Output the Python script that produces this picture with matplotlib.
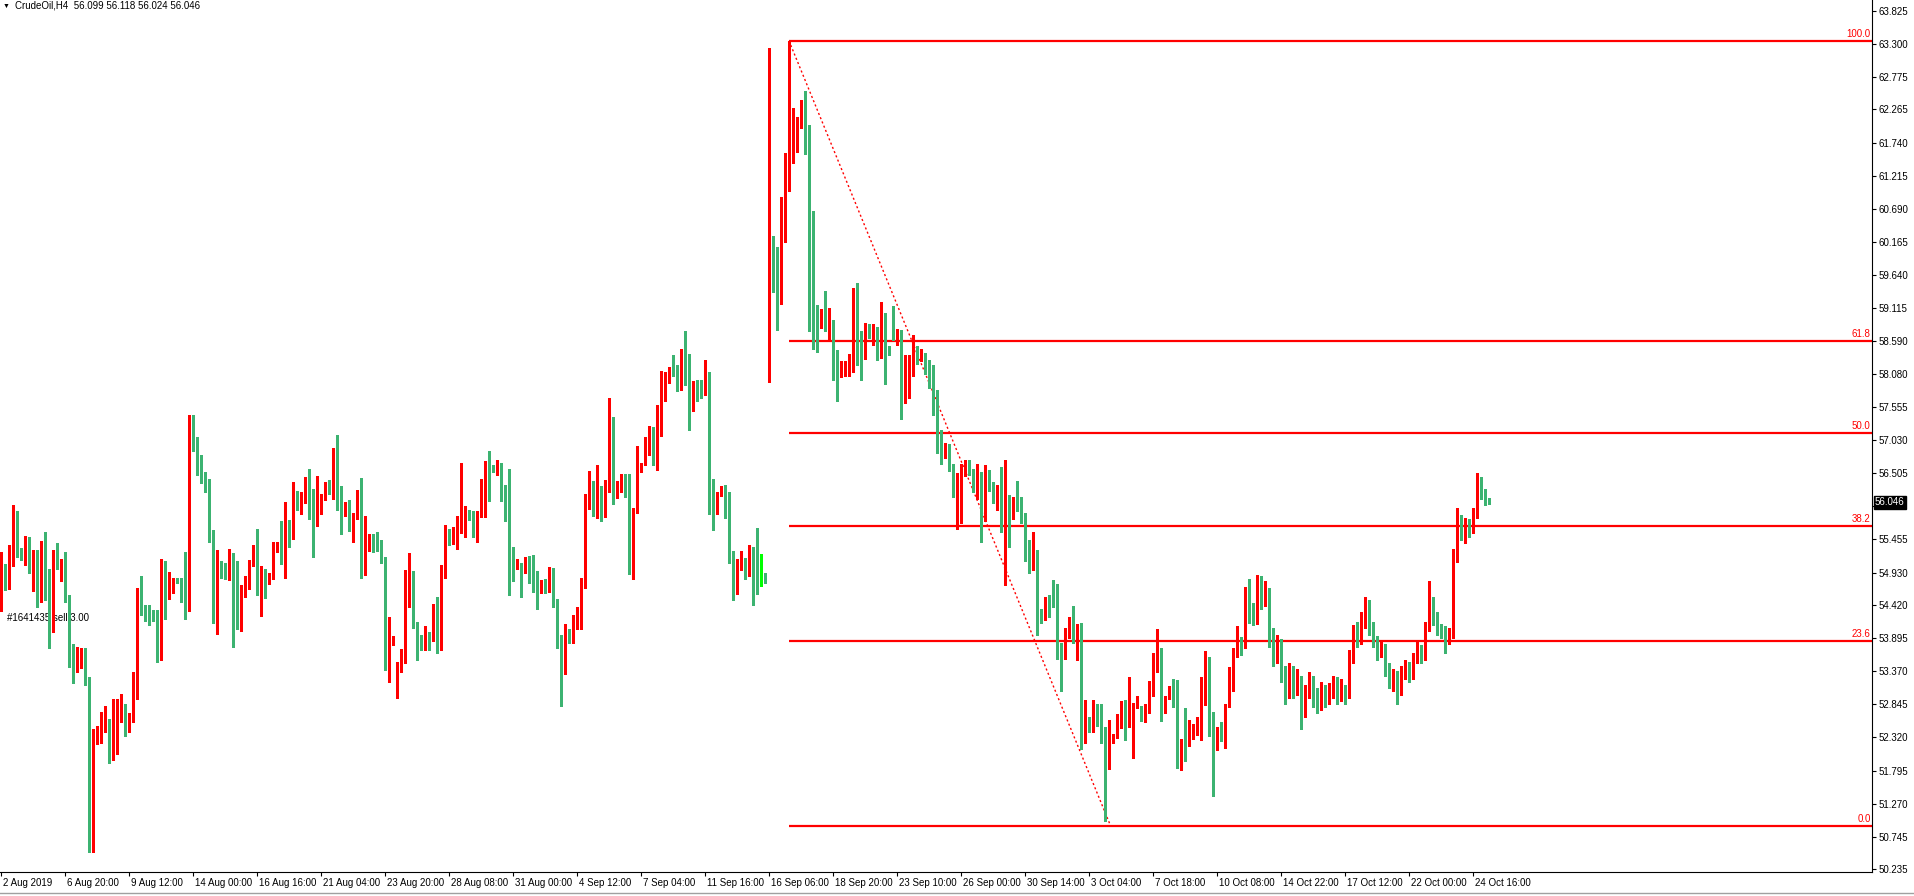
import matplotlib
matplotlib.use("Agg")
import matplotlib.pyplot as plt
import matplotlib.transforms as mtransforms
from matplotlib.lines import Line2D
import numpy as np

plt.rcParams['font.family'] = ['Liberation Sans', 'DejaVu Sans']

# CrudeOil H4 candles, 2 Aug 2019 .. 24 Oct 2019 (one value per bar)
opens = [
    54.42, 54.99, 54.79, 55.24, 55.37, 55.25, 55.26, 55.40, 55.01, 55.21,
    54.93, 55.24, 54.80, 54.04, 55.27, 55.03, 55.05, 54.50, 53.73, 53.38,
    53.57, 53.71, 53.24, 50.65, 52.24, 52.26, 52.56, 52.56, 52.07, 52.66,
    52.73, 52.82, 52.41, 52.62, 53.06, 54.39, 54.37, 54.29, 54.21, 54.18,
    53.79, 55.05, 54.59, 54.76, 54.81, 54.79, 54.69, 54.36, 57.28, 57.07,
    56.77, 56.38, 56.26, 55.46, 54.14, 55.05, 54.93, 54.87, 55.15, 54.60,
    54.55, 54.55, 54.75, 55.06, 55.12, 54.65, 54.88, 54.85, 54.95, 55.30,
    55.34, 55.23, 55.69, 55.62, 56.21, 55.94, 56.13, 56.25, 55.91, 55.76,
    55.94, 56.15, 56.36, 56.32, 56.83, 56.20, 55.83, 55.99, 55.61, 55.83,
    56.10, 54.91, 55.36, 55.50, 55.36, 55.33, 55.18, 53.52, 53.82, 53.38,
    53.43, 53.54, 54.53, 54.75, 54.15, 53.79, 53.75, 53.96, 53.93, 54.23,
    53.76, 54.93, 55.58, 55.42, 55.50, 55.67, 55.83, 55.91, 55.85, 55.56,
    55.88, 56.32, 56.65, 56.62, 56.55, 56.65, 56.25, 55.96, 55.12, 55.05,
    54.99, 54.94, 55.13, 54.82, 54.82, 54.71, 54.83, 54.64, 54.82, 54.43,
    53.90, 53.58, 53.93, 53.82, 54.07, 54.22, 54.79, 56.11, 56.29, 55.99,
    56.20, 55.84, 56.31, 57.23, 56.22, 56.28, 56.47, 56.16, 55.46, 55.90,
    56.54, 56.66, 56.79, 57.11, 57.02, 57.24, 57.88, 57.98, 58.14, 58.06,
    57.89, 58.43, 58.18, 57.52, 57.95, 57.86, 57.82, 57.87, 56.24, 56.08,
    56.17, 56.26, 56.06, 55.18, 54.82, 55.05, 55.15, 54.95, 55.26, 55.04,
    54.89, 54.89, 57.95, 60.20, 60.08, 59.56, 60.16, 60.98, 61.77, 61.84,
    61.98, 62.28, 62.02, 59.90, 59.07, 58.87, 58.98, 58.86, 58.89, 58.41,
    58.04, 58.08, 58.22, 58.29, 59.25, 58.37, 58.34, 58.83, 58.68, 58.82,
    58.66, 58.79, 58.46, 59.00, 58.65, 58.76, 57.70, 57.93, 58.24, 58.47,
    58.31, 58.37, 58.16, 58.09, 57.81, 56.99, 56.78, 56.92, 56.61, 56.18,
    56.25, 56.53, 56.70, 56.55, 56.23, 56.52, 55.95, 56.49, 56.27, 56.06,
    56.23, 55.81, 56.10, 55.84, 56.28, 56.02, 55.82, 55.25, 55.13, 55.19,
    54.26, 54.20, 54.53, 54.50, 54.40, 53.64, 53.57, 54.02, 54.20, 53.90,
    54.02, 52.38, 52.64, 52.49, 52.83, 52.65, 52.48, 51.88, 52.30, 52.32,
    52.61, 52.85, 52.64, 52.76, 52.81, 52.78, 52.65, 52.79, 53.05, 53.56,
    53.61, 52.89, 52.93, 53.06, 52.82, 51.95, 52.27, 52.22, 52.37, 52.41,
    52.47, 53.16, 53.46, 52.63, 52.19, 52.47, 52.30, 52.81, 53.24, 53.63,
    53.88, 53.79, 54.56, 54.32, 54.18, 54.70, 54.45, 54.62, 53.85, 53.60,
    53.80, 53.30, 53.05, 53.35, 53.10, 53.25, 52.75, 53.05, 53.20, 52.95,
    52.85, 53.10, 52.90, 53.05, 53.20, 52.95, 53.10, 52.98, 53.60, 54.00,
    53.85, 54.15, 54.40, 54.05, 53.85, 53.65, 53.75, 53.40, 53.20, 53.30,
    53.10, 53.35, 53.45, 53.30, 53.55, 53.70, 53.60, 54.05, 54.40, 54.20,
    54.05, 54.00, 53.85, 53.95, 55.20, 55.75, 55.55, 55.70, 55.60, 55.85,
    56.30, 56.20, 56.099,
]
highs = [
    55.26, 55.07, 55.37, 56.00, 55.90, 55.32, 55.51, 55.49, 55.29, 55.29,
    55.43, 55.57, 54.99, 55.29, 55.40, 55.15, 55.25, 54.58, 53.80, 53.75,
    53.73, 53.73, 53.27, 52.45, 52.50, 52.72, 52.82, 52.62, 52.93, 52.93,
    53.01, 52.85, 52.71, 53.36, 54.69, 54.87, 54.41, 54.41, 54.34, 54.34,
    55.15, 55.12, 54.94, 54.85, 54.85, 54.85, 55.25, 57.42, 57.43, 57.07,
    56.79, 56.53, 56.42, 55.61, 55.29, 55.12, 55.08, 55.31, 55.24, 55.11,
    54.74, 54.87, 55.13, 55.37, 55.62, 55.04, 54.99, 54.93, 55.41, 55.42,
    55.75, 56.05, 55.76, 56.37, 56.22, 56.21, 56.45, 56.57, 56.25, 56.46,
    56.18, 56.37, 56.40, 56.91, 57.11, 56.30, 56.05, 56.08, 55.87, 56.24,
    56.43, 55.82, 55.54, 55.54, 55.57, 55.45, 55.18, 54.23, 53.92, 53.51,
    53.72, 54.97, 55.24, 54.95, 54.15, 53.94, 54.08, 53.99, 54.43, 54.55,
    55.05, 55.69, 55.62, 55.66, 55.82, 56.67, 55.99, 55.92, 55.91, 55.91,
    56.41, 56.69, 56.86, 56.63, 56.71, 56.67, 56.32, 56.57, 55.33, 55.15,
    55.08, 55.17, 55.20, 55.21, 54.96, 54.82, 54.83, 55.02, 55.01, 54.52,
    53.94, 54.12, 54.04, 54.26, 54.38, 54.84, 56.18, 56.54, 56.38, 56.63,
    56.30, 56.40, 57.70, 57.39, 56.38, 56.49, 56.49, 56.49, 55.95, 56.93,
    56.67, 57.08, 57.25, 57.23, 57.59, 58.12, 58.11, 58.18, 58.38, 58.21,
    58.47, 58.75, 58.39, 57.97, 57.98, 57.98, 58.29, 58.10, 56.42, 56.21,
    56.30, 56.32, 56.21, 55.28, 55.14, 55.28, 55.16, 55.37, 55.33, 55.64,
    55.23, 54.93, 63.24, 60.26, 60.08, 60.87, 61.57, 63.35, 62.28, 62.15,
    62.42, 62.56, 62.02, 60.66, 59.17, 59.10, 59.39, 59.12, 58.93, 58.46,
    58.28, 58.28, 58.39, 59.44, 59.52, 58.76, 58.89, 58.86, 58.87, 58.82,
    59.21, 59.04, 58.52, 59.15, 58.78, 58.77, 58.37, 58.37, 58.69, 58.52,
    58.47, 58.41, 58.29, 58.22, 57.82, 57.19, 56.99, 56.96, 56.65, 56.51,
    56.65, 56.71, 56.71, 56.57, 56.65, 56.52, 56.64, 56.55, 56.37, 56.31,
    56.60, 56.71, 56.16, 56.12, 56.38, 56.12, 55.87, 55.45, 55.57, 55.29,
    54.35, 54.55, 54.58, 54.81, 54.75, 53.81, 54.06, 54.22, 54.40, 54.12,
    54.13, 52.92, 52.65, 52.92, 52.85, 52.85, 52.49, 52.60, 52.38, 52.69,
    52.90, 52.92, 53.28, 52.86, 52.97, 52.82, 52.85, 53.21, 53.66, 54.04,
    53.74, 52.98, 53.13, 53.25, 53.23, 52.29, 52.79, 52.60, 52.54, 52.65,
    53.28, 53.69, 53.59, 52.73, 52.49, 52.56, 52.85, 53.43, 53.73, 54.09,
    53.91, 54.70, 54.83, 54.45, 54.90, 54.88, 54.80, 54.68, 54.05, 53.95,
    53.88, 53.45, 53.50, 53.45, 53.40, 53.30, 53.15, 53.35, 53.30, 53.10,
    53.20, 53.15, 53.18, 53.30, 53.28, 53.25, 53.15, 53.70, 54.10, 54.15,
    54.30, 54.55, 54.50, 54.15, 53.92, 53.85, 53.80, 53.50, 53.40, 53.38,
    53.45, 53.55, 53.52, 53.65, 53.85, 53.78, 54.15, 54.80, 54.55, 54.30,
    54.12, 54.08, 54.05, 55.30, 55.95, 55.85, 55.80, 55.78, 55.95, 56.50,
    56.45, 56.25, 56.118,
]
lows = [
    54.33, 54.66, 54.67, 55.03, 55.18, 55.13, 55.05, 54.93, 54.64, 54.39,
    54.47, 54.50, 53.74, 53.99, 54.99, 54.80, 54.47, 53.44, 53.18, 53.35,
    53.42, 53.15, 50.51, 50.51, 52.21, 52.23, 52.41, 51.92, 51.97, 52.06,
    52.57, 52.35, 52.40, 52.56, 52.93, 54.26, 54.17, 54.10, 54.16, 53.52,
    53.55, 54.20, 54.51, 54.60, 54.76, 54.47, 54.20, 54.33, 56.85, 56.48,
    56.35, 56.21, 55.42, 54.14, 53.96, 54.84, 54.83, 54.81, 53.76, 54.03,
    54.01, 54.54, 54.67, 55.03, 54.57, 54.24, 54.53, 54.75, 54.83, 55.25,
    55.07, 54.85, 55.34, 55.46, 55.92, 55.86, 56.04, 55.78, 55.17, 55.67,
    55.86, 56.08, 56.18, 56.10, 55.92, 55.54, 55.82, 55.59, 55.41, 55.78,
    54.85, 54.89, 55.27, 55.26, 55.28, 55.09, 53.39, 53.20, 53.79, 52.95,
    53.35, 53.50, 54.39, 54.05, 53.55, 53.71, 53.71, 53.70, 53.85, 53.66,
    53.70, 54.85, 55.37, 55.38, 55.31, 55.56, 55.50, 55.76, 55.50, 55.42,
    55.81, 55.81, 56.07, 56.52, 56.47, 56.07, 55.74, 54.57, 54.80, 54.99,
    54.55, 54.92, 54.77, 54.63, 54.35, 54.61, 54.61, 54.63, 54.39, 53.74,
    52.82, 53.32, 53.81, 53.81, 54.04, 54.04, 54.68, 55.94, 55.83, 55.80,
    55.74, 55.81, 56.20, 56.02, 56.11, 56.21, 56.13, 54.91, 54.83, 55.87,
    56.52, 56.64, 56.79, 56.63, 56.55, 57.10, 57.65, 57.94, 58.05, 57.81,
    57.82, 57.90, 57.19, 57.49, 57.64, 57.70, 57.74, 55.86, 55.61, 55.86,
    56.15, 55.80, 55.09, 54.50, 54.59, 54.97, 54.83, 54.88, 54.42, 54.59,
    54.72, 54.77, 57.95, 59.37, 58.77, 59.19, 60.16, 60.98, 61.42, 61.59,
    61.97, 61.56, 58.76, 58.47, 58.42, 58.80, 58.76, 58.62, 57.98, 57.65,
    58.02, 58.04, 58.04, 58.11, 58.22, 57.98, 58.32, 58.65, 58.54, 58.30,
    58.33, 57.91, 58.37, 58.62, 58.54, 57.37, 57.61, 57.70, 58.05, 58.24,
    58.28, 58.07, 57.85, 57.42, 56.82, 56.65, 56.74, 56.54, 56.12, 55.62,
    55.71, 56.46, 56.48, 56.20, 56.09, 55.41, 55.75, 56.23, 56.03, 55.92,
    55.58, 54.74, 55.33, 55.78, 55.90, 55.72, 55.11, 54.93, 54.97, 53.94,
    54.14, 54.18, 54.22, 54.39, 53.57, 53.05, 53.56, 53.90, 53.82, 53.55,
    52.13, 52.24, 52.40, 52.40, 52.50, 52.24, 50.99, 51.82, 52.23, 52.31,
    52.47, 52.28, 52.49, 52.00, 52.78, 52.58, 52.56, 52.71, 52.97, 53.36,
    52.58, 52.71, 52.93, 52.80, 51.84, 51.80, 51.95, 52.18, 52.30, 52.36,
    52.28, 52.83, 52.35, 51.40, 52.12, 52.27, 52.16, 52.80, 53.05, 53.60,
    53.63, 53.73, 54.13, 54.10, 54.12, 54.35, 54.40, 53.75, 53.45, 53.50,
    53.20, 52.85, 52.95, 52.95, 53.00, 52.45, 52.65, 52.95, 52.80, 52.70,
    52.75, 52.80, 52.85, 52.95, 52.85, 52.90, 52.85, 52.95, 53.50, 53.75,
    53.80, 54.05, 53.95, 53.75, 53.55, 53.60, 53.30, 53.10, 53.05, 52.85,
    53.00, 53.25, 53.20, 53.25, 53.50, 53.50, 53.55, 54.00, 54.10, 53.95,
    53.90, 53.65, 53.80, 53.90, 55.10, 55.45, 55.40, 55.50, 55.55, 55.80,
    56.10, 56.00, 56.024,
]
closes = [
    55.24, 54.79, 55.24, 55.37, 55.25, 55.20, 55.40, 55.01, 55.23, 54.93,
    55.25, 54.79, 54.04, 55.27, 55.03, 55.04, 54.50, 53.73, 53.36, 53.57,
    53.71, 53.24, 50.59, 52.26, 52.28, 52.56, 52.57, 52.07, 52.66, 52.74,
    52.81, 52.41, 52.62, 53.06, 54.41, 54.37, 54.22, 54.21, 54.18, 53.79,
    55.04, 54.59, 54.77, 54.81, 54.77, 54.67, 54.36, 57.27, 57.05, 56.75,
    56.37, 56.26, 55.45, 54.18, 55.05, 54.93, 54.87, 55.15, 54.59, 54.54,
    54.58, 54.76, 55.07, 55.12, 54.65, 54.88, 54.85, 54.88, 55.31, 55.34,
    55.23, 55.69, 55.62, 56.21, 55.92, 56.14, 56.25, 55.90, 55.76, 55.96,
    56.16, 56.36, 56.30, 56.83, 56.18, 55.84, 55.99, 55.61, 55.85, 56.10,
    54.95, 55.37, 55.50, 55.34, 55.33, 55.17, 53.48, 53.84, 53.90, 53.44,
    53.55, 54.55, 54.75, 54.12, 53.77, 53.75, 53.96, 53.92, 54.23, 53.77,
    54.95, 55.58, 55.42, 55.52, 55.69, 55.88, 55.91, 55.83, 55.56, 55.91,
    56.32, 56.63, 56.61, 56.57, 56.65, 56.27, 55.92, 55.10, 55.05, 55.15,
    54.95, 55.13, 54.80, 54.80, 54.71, 54.78, 54.64, 54.82, 54.42, 53.90,
    53.58, 53.93, 53.83, 54.09, 54.23, 54.80, 56.12, 56.29, 55.99, 56.20,
    55.84, 56.33, 57.18, 56.22, 56.29, 56.47, 56.14, 55.46, 55.93, 56.56,
    56.67, 56.81, 57.11, 57.02, 57.25, 57.94, 58.00, 58.14, 58.05, 57.89,
    58.43, 58.16, 57.52, 57.95, 57.86, 57.83, 57.87, 56.24, 56.18, 56.19,
    56.26, 56.04, 55.17, 54.82, 55.07, 55.15, 54.95, 55.26, 55.03, 54.88,
    54.89, 54.80, 60.19, 60.07, 59.56, 60.19, 61.02, 61.78, 61.87, 62.01,
    62.29, 62.01, 59.89, 59.06, 58.87, 58.98, 58.87, 58.89, 58.35, 58.03,
    58.09, 58.24, 58.30, 59.24, 58.36, 58.34, 58.82, 58.67, 58.82, 58.66,
    58.81, 58.45, 58.38, 58.65, 58.77, 57.70, 57.94, 58.22, 58.47, 58.32,
    58.37, 58.15, 58.08, 57.78, 56.99, 56.78, 56.94, 56.60, 56.17, 56.26,
    56.54, 56.70, 56.54, 56.23, 56.53, 55.92, 56.49, 56.25, 56.05, 56.23,
    55.81, 56.10, 55.84, 56.12, 56.00, 55.80, 55.23, 55.13, 55.19, 54.25,
    54.20, 54.51, 54.48, 54.40, 53.64, 53.56, 54.04, 54.20, 53.90, 54.04,
    52.38, 52.65, 52.49, 52.82, 52.64, 52.48, 51.88, 52.30, 52.33, 52.61,
    52.85, 52.64, 52.77, 52.84, 52.95, 52.65, 52.83, 53.06, 53.59, 53.63,
    52.89, 52.93, 53.06, 52.83, 51.95, 52.28, 52.21, 52.38, 52.43, 52.47,
    53.17, 53.47, 52.63, 52.19, 52.48, 52.29, 52.83, 53.24, 53.64, 53.88,
    53.80, 54.58, 54.31, 54.18, 54.70, 54.45, 54.62, 53.85, 53.60, 53.80,
    53.30, 53.05, 53.35, 53.10, 53.25, 52.75, 53.05, 53.20, 52.95, 52.85,
    53.10, 52.90, 53.05, 53.20, 52.95, 53.10, 52.98, 53.60, 54.00, 53.85,
    54.15, 54.40, 54.05, 53.85, 53.65, 53.75, 53.40, 53.20, 53.30, 53.10,
    53.35, 53.45, 53.30, 53.55, 53.70, 53.60, 54.05, 54.40, 54.20, 54.05,
    54.00, 53.85, 53.95, 55.20, 55.75, 55.55, 55.70, 55.60, 55.85, 56.30,
    56.20, 56.10, 56.046,
]

time_labels = [
    "2 Aug 2019", "6 Aug 20:00", "9 Aug 12:00", "14 Aug 00:00", "16 Aug 16:00",
    "21 Aug 04:00", "23 Aug 20:00", "28 Aug 08:00", "31 Aug 00:00", "4 Sep 12:00",
    "7 Sep 04:00", "11 Sep 16:00", "16 Sep 06:00", "18 Sep 20:00", "23 Sep 10:00",
    "26 Sep 00:00", "30 Sep 14:00", "3 Oct 04:00", "7 Oct 18:00", "10 Oct 08:00",
    "14 Oct 22:00", "17 Oct 12:00", "22 Oct 00:00", "24 Oct 16:00",
]
bars_per_label = 16

price_ticks = [
    63.825, 63.300, 62.775, 62.265, 61.740, 61.215, 60.690, 60.165, 59.640,
    59.115, 58.590, 58.080, 57.555, 57.030, 56.505, 55.980, 55.455, 54.930,
    54.420, 53.895, 53.370, 52.845, 52.320, 51.795, 51.270, 50.745, 50.235,
]

fib_high = 63.35
fib_low = 50.92
fib_start_bar = 197
fib_end_bar = 277.4
fib_levels = [0.0, 23.6, 38.2, 50.0, 61.8, 100.0]

last_price = 56.046
header = "CrudeOil,H4  56.099 56.118 56.024 56.046"
order_note = "#1641435 sell 3.00"

assert len(opens) == len(highs) == len(lows) == len(closes)

W, H = 1915, 896
fig = plt.figure(figsize=(W / 100, H / 100), dpi=100)
fig.patch.set_facecolor('white')
ax = fig.add_axes([0, 24 / H, 1872 / W, 872 / H])

x = np.arange(len(opens))
o = np.array(opens)
c = np.array(closes)
up_col, dn_col, doji_col = '#ff0000', '#3cb371', '#00ff00'
colors = [up_col if cc > oo else (dn_col if cc < oo else doji_col) for oo, cc in zip(o, c)]

# wicks + bodies
ax.vlines(x, lows, highs, colors=colors, linewidth=0.75, antialiased=False, zorder=3)
bottoms = np.minimum(o, c)
heights = np.maximum(np.abs(c - o), 0.016)
ax.bar(x, heights, bottom=bottoms, width=0.75, color=colors, linewidth=0,
       antialiased=False, zorder=4)

ax.set_xlim(-0.25, 467.75)
ax.set_ylim(50.19, 63.997)

# fibonacci retracement
xmax = ax.get_xlim()[1]
for lvl in fib_levels:
    p = fib_low + (fib_high - fib_low) * lvl / 100.0
    ax.hlines(p, fib_start_bar, xmax, color='red', linewidth=1.6, zorder=2)
    ax.text(467.4, p + 0.03, f"{lvl:.1f}", color='red', fontsize=7,
            ha='right', va='bottom', zorder=5)
ax.plot([fib_start_bar, fib_end_bar], [fib_high, fib_low], color='red',
        linewidth=1.0, linestyle=(0, (1.5, 1.8)), zorder=2)

# order label
ax.text(1.5, 54.21, order_note, fontsize=7, va='center', ha='left', color='black', zorder=1)

# axes cosmetics
for s in ['top', 'left']:
    ax.spines[s].set_visible(False)
for s in ['right', 'bottom']:
    ax.spines[s].set_linewidth(0.8)
    ax.spines[s].set_color('black')

ax.yaxis.tick_right()
ax.set_yticks(price_ticks)
# the tick hidden behind the current-price tag gets no label
ax.set_yticklabels(["" if abs(p - last_price) < 0.1 else f"{p:.3f}" for p in price_ticks])
ax.tick_params(axis='y', direction='out', length=3, width=0.8, labelsize=7, pad=1.5)

ax.set_xticks([bars_per_label * k for k in range(len(time_labels))])
ax.set_xticklabels(time_labels, ha='left')
ax.tick_params(axis='x', direction='out', length=3, width=0.8, labelsize=7, pad=1)
shift = mtransforms.ScaledTranslation(2 / 100, 0, fig.dpi_scale_trans)
for lab in ax.get_xticklabels():
    lab.set_transform(lab.get_transform() + shift)

# current price tag
trans = mtransforms.blended_transform_factory(ax.transAxes, ax.transData)
ax.text(1.0 + 3 / 1872, last_price, f"{last_price:.3f}", transform=trans,
        ha='left', va='center', color='white', fontsize=7, clip_on=False,
        bbox=dict(boxstyle='square,pad=0.15', fc='black', ec='black'), zorder=10)

# header
fig.text(3 / W, 1 - 6 / H, "\u25bc", fontsize=5, va='center', ha='left')
fig.text(15 / W, 1 - 6 / H, header, fontsize=7, va='center', ha='left')

# window bottom edge
fig.add_artist(Line2D([0, 1], [1 - 893 / H, 1 - 893 / H], color='#a0a0a0', linewidth=1))

fig.savefig('out.png', dpi=100, facecolor='white')
